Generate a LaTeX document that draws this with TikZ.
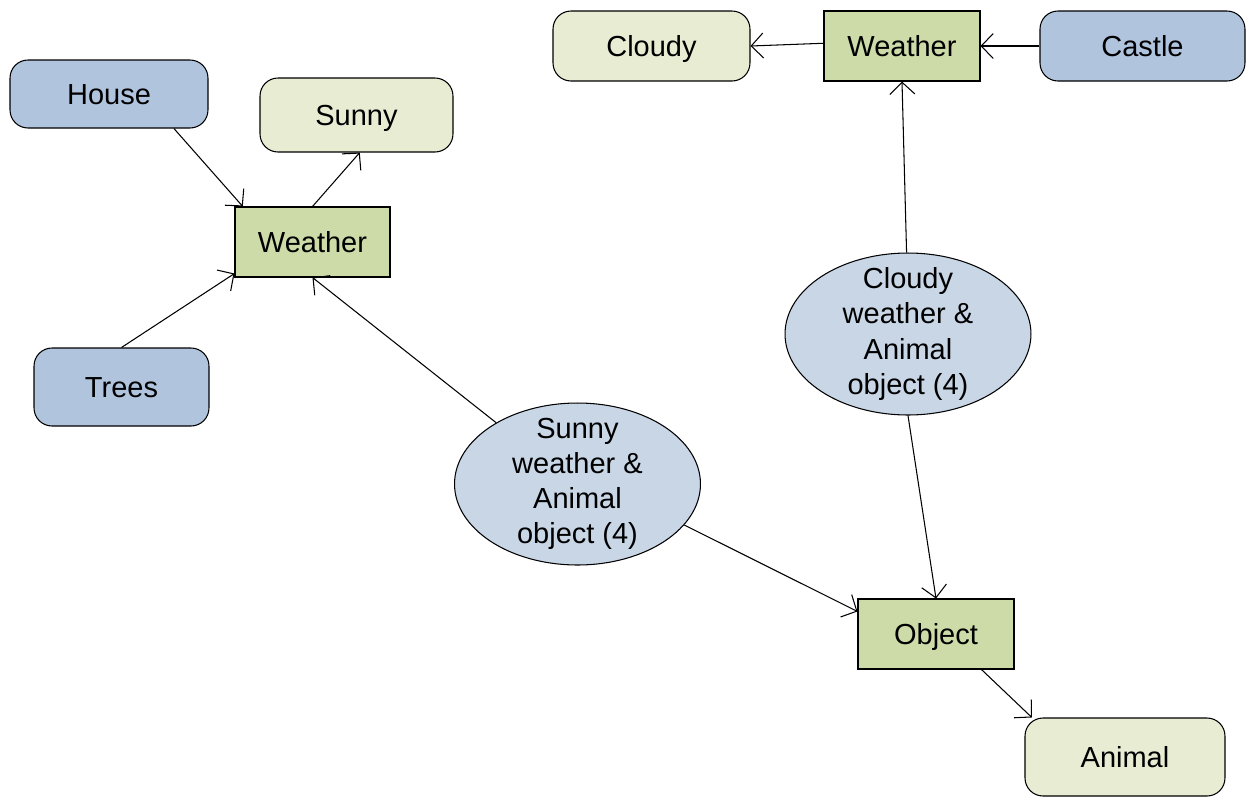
\documentclass[tikz,border=0pt]{standalone}
\usepackage{fontspec}
\setmainfont{Liberation Sans}
\usetikzlibrary{arrows.meta,shapes.geometric}
\definecolor{cblue}{RGB}{176,196,222}
\definecolor{clight}{RGB}{232,236,210}
\definecolor{cgreen}{RGB}{204,219,168}
\definecolor{cell}{RGB}{200,214,230}
\begin{document}
\begin{tikzpicture}[x=0.02cm,y=-0.02cm,
  every node/.style={font=\fontsize{16.5}{20}\selectfont, inner sep=0pt, draw=black, line width=0.6pt},
  boxtext/.style={text height=11.8pt, text depth=0pt},
  bluebox/.style={boxtext, rectangle, rounded corners=0.36cm, fill=cblue},
  lightbox/.style={boxtext, rectangle, rounded corners=0.36cm, fill=clight},
  greenbox/.style={boxtext, rectangle, fill=cgreen, minimum width=3.1cm, minimum height=1.4cm},
  ellnode/.style={ellipse, fill=cell, minimum width=4.92cm, minimum height=3.24cm},
  elltext/.style={draw=none, align=center},
  conn/.style={line width=0.6pt, -{Straight Barb[length=0.24cm,width=0.5cm]}}
]
\useasboundingbox (0,0) rectangle (1249,799);
\node[bluebox, minimum width=3.96cm, minimum height=1.36cm] (house) at (109,94) {House};
\node[lightbox, minimum width=3.86cm, minimum height=1.48cm] (sunny) at (356.5,115) {Sunny};
\node[greenbox] (w1) at (312.5,242) {Weather};
\node[bluebox, minimum width=3.5cm, minimum height=1.56cm] (trees) at (121.5,387) {Trees};
\node[ellnode] (e1) at (577.5,484) {};
\node[elltext] (e1text) at (e1) {Sunny\\weather \&\\Animal\\object (4)};
\node[greenbox, minimum width=3.12cm] (object) at (936,634) {Object};
\node[lightbox, minimum width=4.0cm, minimum height=1.56cm] (animal) at (1125,757) {Animal};
\node[ellnode] (e2) at (908,334) {};
\node[elltext] (e2text) at (e2) {Cloudy\\weather \&\\Animal\\object (4)};
\node[greenbox, minimum width=3.12cm] (w2) at (902,46) {Weather};
\node[lightbox, minimum width=3.94cm, minimum height=1.4cm] (cloudy) at (651.5,46) {Cloudy};
\node[bluebox, minimum width=4.1cm, minimum height=1.4cm] (castle) at (1142.5,46) {Castle};

\draw[conn] (house.-28.4) -- (w1.153.6);
\draw[conn] (w1.north) -- (sunny.-85);
\draw[conn] (trees.north) -- (w1.202.4);
\draw[conn] (e1.143.1) -- (w1.south);
\draw[conn] (e1.-21.6) -- (object.164.2);
\draw[conn] (e2.91) -- (w2.south);
\draw[conn] (e2.south) -- (object.north);
\draw[conn] (w2.178) -- (cloudy.east);
\draw[conn] (castle.west) -- (w2.east);
\draw[conn] (object.-38.5) -- (animal.157.4);
\end{tikzpicture}
\end{document}
